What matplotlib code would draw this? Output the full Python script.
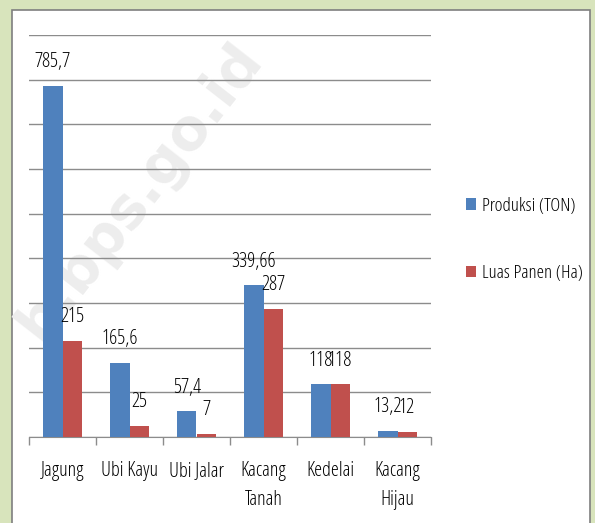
import matplotlib
matplotlib.use("Agg")
import matplotlib.pyplot as plt
import numpy as np
from matplotlib.patches import Rectangle

plt.rcParams['font.family'] = ['Open Sans', 'DejaVu Sans']
plt.rcParams['font.stretch'] = 'condensed'

# data
categories = ['Jagung', 'Ubi Kayu', 'Ubi Jalar', 'Kacang\nTanah', 'Kedelai', 'Kacang\nHijau']
produksi = [785.7, 165.6, 57.4, 339.66, 118, 13.2]
luas_panen = [215, 25, 7, 287, 118, 12]
produksi_labels = ['785,7', '165,6', '57,4', '339,66', '118', '13,2']
luas_labels = ['215', '25', '7', '287', '118', '12']

blue = '#4f81bd'
red = '#c0504d'
grid_col = '#8c8c8c'
txt_col = '#000000'

W, H = 595, 523
fig = plt.figure(figsize=(W / 100, H / 100), dpi=100)
fig.patch.set_facecolor('#d8e4bc')

# white chart area with grey border
frame = Rectangle((12 / W, -0.01), (590 - 12) / W, 1 - 10 / H + 0.01,
                  transform=fig.transFigure, facecolor='white',
                  edgecolor='#7f7f7f', linewidth=1.2, zorder=-2)
fig.patches.append(frame)

# faint watermark
fig.text(140 / W, 1 - 192 / H, 'b.bps.go.id', rotation=52, fontsize=41,
         fontweight='bold', family='DejaVu Sans', stretch='normal',
         color='#ededed', ha='center', va='center', zorder=-1)

ax = fig.add_axes([29 / W, 86 / H, (431 - 29) / W, (437 - 35) / H])
ax.set_zorder(1)
ax.set_facecolor('none')

x = np.arange(len(categories))
w = 0.285
b1 = ax.bar(x - w / 2, produksi, w, color=blue, label='Produksi (TON)', zorder=3)
b2 = ax.bar(x + w / 2, luas_panen, w, color=red, label='Luas Panen (Ha)', zorder=3)

for bars, labels in [(b1, produksi_labels), (b2, luas_labels)]:
    for rect, lab in zip(bars, labels):
        ax.annotate(lab, (rect.get_x() + rect.get_width() / 2, rect.get_height()),
                    xytext=(0, 17), textcoords='offset points', ha='center',
                    va='center', fontsize=14.5, color=txt_col, zorder=4)

ax.set_xlim(-0.5, len(categories) - 0.5)
ax.set_ylim(0, 900)
ax.set_yticks(np.arange(0, 901, 100))
ax.yaxis.grid(True, color=grid_col, linewidth=1.0, zorder=1)
ax.set_axisbelow(True)
ax.tick_params(axis='y', left=False, labelleft=False)

ax.set_xticks(x)
ax.set_xticklabels(categories, fontsize=14.5, linespacing=1.6, color=txt_col)
ax.tick_params(axis='x', length=0, pad=17)
ax.set_xticks(np.arange(-0.5, len(categories)), minor=True)
ax.tick_params(axis='x', which='minor', length=6, color=grid_col, width=1)

for s in ['top', 'right', 'left']:
    ax.spines[s].set_visible(False)
ax.spines['bottom'].set_color(grid_col)

leg = fig.legend(handles=[b1, b2], loc='upper left', bbox_to_anchor=(458 / W, 1 - 189 / H),
                 frameon=False, fontsize=13.7, handlelength=0.55, handleheight=0.55,
                 handletextpad=0.3, labelspacing=2.6, borderaxespad=0)
for t in leg.get_texts():
    t.set_color(txt_col)

fig.savefig('out.png', dpi=100, facecolor=fig.get_facecolor())
